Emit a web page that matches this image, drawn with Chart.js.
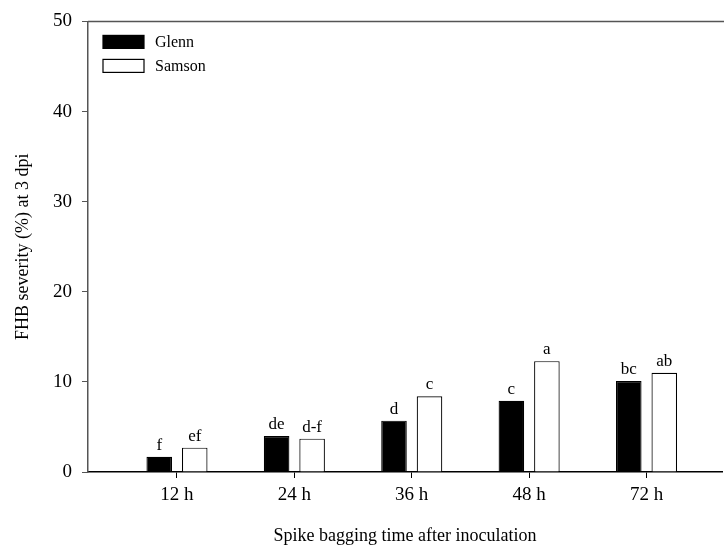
<!DOCTYPE html>
<html>
<head>
<meta charset="utf-8">
<script src="https://cdn.jsdelivr.net/npm/chart.js@4.4.1/dist/chart.umd.min.js"></script>
<style>
  html, body { margin: 0; padding: 0; background: #fff; }
  #wrap { width: 724px; height: 552px; }
</style>
</head>
<body>
<div id="wrap"><canvas id="chart" width="724" height="552"></canvas></div>
<script>
// Bagging times, one position per group on the x axis
const timeLabels = ['12 h', '24 h', '36 h', '48 h', '72 h'];
const timePositions = [1, 2, 3, 4, 5];

// Mean FHB severity (%) at 3 dpi
const glennValues = [1.7, 4.0, 5.7, 7.9, 10.1];
const samsonValues = [2.7, 3.7, 8.4, 12.3, 11.0];

// Mean separation letters
const glennLetters = ['f', 'de', 'd', 'c', 'bc'];
const samsonLetters = ['ef', 'd-f', 'c', 'a', 'ab'];

const yTicks = [0, 10, 20, 30, 40, 50];

const SERIF = '"Liberation Serif", "Times New Roman", serif';

const toPoints = (vals) => vals.map((v, i) => ({ x: timePositions[i], y: v }));

// Letters written just above each bar
const letterPlugin = {
  id: 'letters',
  afterDatasetsDraw(chart) {
    const { ctx } = chart;
    const sets = [glennLetters, samsonLetters];
    ctx.save();
    ctx.font = `17px ${SERIF}`;
    ctx.fillStyle = '#000';
    ctx.textAlign = 'center';
    ctx.textBaseline = 'bottom';
    sets.forEach((letters, di) => {
      const meta = chart.getDatasetMeta(di);
      meta.data.forEach((bar, i) => {
        ctx.fillText(letters[i], bar.x, bar.y - 3);
      });
    });
    ctx.restore();
  }
};

// Frame top line plus a boxed legend in the upper left corner
const framePlugin = {
  id: 'frame',
  afterDraw(chart) {
    const { ctx, chartArea } = chart;
    ctx.save();
    ctx.strokeStyle = '#555';
    ctx.lineWidth = 1.5;
    ctx.beginPath();
    ctx.moveTo(chartArea.left, chartArea.top);
    ctx.lineTo(chartArea.right + 4, chartArea.top);
    ctx.stroke();

    ctx.font = `16px ${SERIF}`;
    ctx.textBaseline = 'middle';
    chart.data.datasets.forEach((ds, i) => {
      const x = chartArea.left + 15;
      const y = chartArea.top + 14 + i * 24;
      ctx.fillStyle = ds.backgroundColor;
      ctx.fillRect(x, y, 41, 13);
      ctx.strokeStyle = '#000';
      ctx.lineWidth = 1.2;
      ctx.strokeRect(x, y, 41, 13);
      ctx.fillStyle = '#000';
      ctx.fillText(ds.label, x + 52, y + 7);
    });
    ctx.restore();
  }
};

new Chart(document.getElementById('chart'), {
  type: 'bar',
  data: {
    datasets: [
      {
        label: 'Glenn',
        data: toPoints(glennValues),
        backgroundColor: '#000',
        borderColor: '#000',
        borderWidth: 1.2
      },
      {
        label: 'Samson',
        data: toPoints(samsonValues),
        backgroundColor: '#fff',
        borderColor: '#000',
        borderWidth: 1.2
      }
    ]
  },
  options: {
    responsive: false,
    animation: false,
    layout: { padding: { top: 19, right: 2, left: 0, bottom: 0 } },
    datasets: { bar: { categoryPercentage: 0.605, barPercentage: 0.72 } },
    plugins: {
      legend: { display: false },
      tooltip: { enabled: false }
    },
    scales: {
      x: {
        type: 'linear',
        offset: false,
        min: 0.242,
        max: 5.643,
        afterBuildTicks: (scale) => { scale.ticks = timePositions.map(v => ({ value: v })); },
        afterFit: (scale) => { scale.height = 80; },
        border: { color: '#000', width: 1.5 },
        grid: { offset: false, drawOnChartArea: false, tickLength: 6, color: '#000' },
        ticks: {
          padding: 6,
          color: '#000',
          font: { family: SERIF, size: 19 },
          callback: (v) => timeLabels[timePositions.indexOf(v)] ?? ''
        },
        title: {
          display: true,
          text: 'Spike bagging time after inoculation',
          color: '#000',
          font: { family: SERIF, size: 18 },
          padding: { top: 0, bottom: 5 }
        }
      },
      y: {
        min: 0,
        max: 50,
        afterBuildTicks: (scale) => { scale.ticks = yTicks.map(v => ({ value: v })); },
        afterFit: (scale) => { scale.width = 88; },
        border: { color: '#555', width: 1.5 },
        grid: { drawOnChartArea: false, tickLength: 6, color: '#555' },
        ticks: {
          padding: 10,
          color: '#000',
          font: { family: SERIF, size: 19 }
        },
        title: {
          display: true,
          text: 'FHB severity (%) at 3 dpi',
          color: '#000',
          font: { family: SERIF, size: 18 },
          padding: { top: 12, bottom: 0 }
        }
      }
    }
  },
  plugins: [letterPlugin, framePlugin]
});
</script>
</body>
</html>
